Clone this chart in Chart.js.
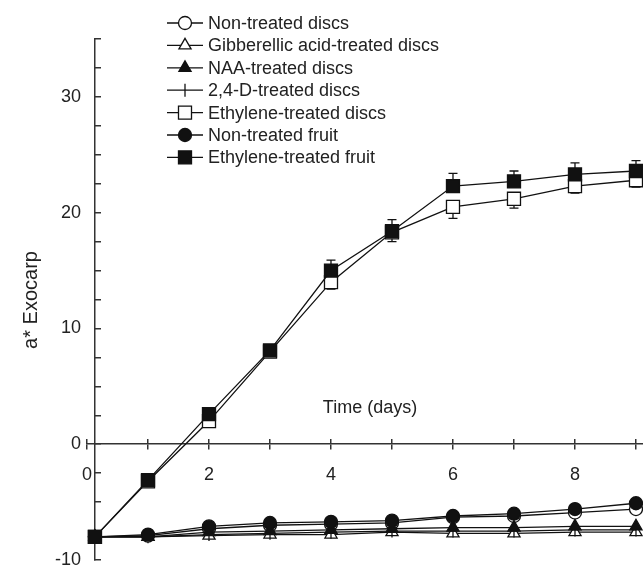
<!DOCTYPE html>
<html>
<head>
<meta charset="utf-8">
<script src="https://cdn.jsdelivr.net/npm/chart.js@4.4.1/dist/chart.umd.min.js"></script>
<style>
  html, body { margin: 0; padding: 0; background: #fff; }
</style>
</head>
<body>
<canvas id="chart" width="643" height="574"></canvas>
<script>
// time points (days) - first point sits on the y axis in the figure
const days = [0.13, 1, 2, 3, 4, 5, 6, 7, 8, 9];

// a* exocarp values
const nonTreatedDiscs = [-8.0, -7.9, -7.3, -7.0, -6.9, -6.8, -6.3, -6.2, -5.9, -5.6];
const gibberellicDiscs = [-8.0, -8.0, -7.9, -7.8, -7.8, -7.6, -7.7, -7.7, -7.6, -7.6];
const naaDiscs = [-8.0, -8.0, -7.6, -7.5, -7.4, -7.3, -7.2, -7.2, -7.1, -7.1];
const twoFourDDiscs = [-8.0, -8.0, -7.8, -7.7, -7.6, -7.5, -7.5, -7.5, -7.4, -7.4];
const ethyleneDiscs = [-8.0, -3.2, 2.0, 8.0, 14.0, 18.3, 20.5, 21.2, 22.3, 22.8];
const nonTreatedFruit = [-8.0, -7.8, -7.1, -6.8, -6.7, -6.6, -6.2, -6.0, -5.6, -5.1];
const ethyleneFruit = [-8.0, -3.1, 2.6, 8.1, 15.0, 18.4, 22.3, 22.7, 23.3, 23.6];

// error bars (only the visible half is drawn)
const ethyleneDiscsErr = [0, 0, 0, 0, 0.6, 0.8, 1.0, 0.8, 0.6, 0.6];
const ethyleneFruitErr = [0, 0, 0, 0, 0.9, 1.0, 1.1, 0.9, 1.0, 0.9];

// axis ticks and labels
const xTicks = [0, 1, 2, 3, 4, 5, 6, 7, 8, 9];
const xLabels = ["0", "", "2", "", "4", "", "6", "", "8", ""];
const yTicks = [-10, -7.5, -5, -2.5, 0, 2.5, 5, 7.5, 10, 12.5, 15, 17.5, 20, 22.5, 25, 27.5, 30, 32.5, 35];
const yLabels = ["-10", "", "", "", "0", "", "", "", "10", "", "", "", "20", "", "", "", "30", "", ""];

const FONT = "'Liberation Sans', Arial, sans-serif";
const INK = "#111";
const AXIS = "#333";

function pts(arr) {
  return arr.map((v, i) => ({ x: days[i], y: v }));
}

function serie(label, arr, style, filled, radius, order, rotation) {
  return {
    label: label,
    data: pts(arr),
    showLine: true,
    borderColor: INK,
    borderWidth: 1.3,
    pointStyle: style,
    pointRadius: radius,
    pointRotation: rotation || 0,
    pointBackgroundColor: filled ? INK : "#fff",
    pointBorderColor: INK,
    pointBorderWidth: 1.3,
    order: order,
  };
}

const datasets = [
  serie("Non-treated discs", nonTreatedDiscs, "circle", false, 6.5, 3),
  serie("Gibberellic acid-treated discs", gibberellicDiscs, "triangle", false, 7, 5),
  serie("NAA-treated discs", naaDiscs, "triangle", true, 7, 2),
  serie("2,4-D-treated discs", twoFourDDiscs, "line", false, 6.5, 4, 90),
  serie("Ethylene-treated discs", ethyleneDiscs, "rect", false, 9.2, 6),
  serie("Non-treated fruit", nonTreatedFruit, "circle", true, 6.5, 1),
  serie("Ethylene-treated fruit", ethyleneFruit, "rect", true, 9.2, 0),
];

const errorBars = [
  { dataset: 4, err: ethyleneDiscsErr, dir: -1 },
  { dataset: 6, err: ethyleneFruitErr, dir: 1 },
];

// error bars drawn under the markers, through the chart scales
const errorBarPlugin = {
  id: "errorBars",
  beforeDatasetsDraw(chart) {
    const ctx = chart.ctx;
    const xs = chart.scales.x;
    const ys = chart.scales.y;
    ctx.save();
    ctx.strokeStyle = INK;
    ctx.lineWidth = 1.3;
    errorBars.forEach((eb) => {
      const arr = chart.data.datasets[eb.dataset].data;
      arr.forEach((p, i) => {
        if (!eb.err[i]) return;
        const px = xs.getPixelForValue(p.x);
        const y0 = ys.getPixelForValue(p.y);
        const y1 = ys.getPixelForValue(p.y + eb.dir * eb.err[i]);
        ctx.beginPath();
        ctx.moveTo(px, y0);
        ctx.lineTo(px, y1);
        ctx.moveTo(px - 4.5, y1);
        ctx.lineTo(px + 4.5, y1);
        ctx.stroke();
      });
    });
    ctx.restore();
  },
};

// legend box in the upper left, with line + marker samples
const legendPlugin = {
  id: "figLegend",
  afterDraw(chart) {
    const ctx = chart.ctx;
    ctx.save();
    chart.data.datasets.forEach((ds, i) => {
      const y = 23 + i * 22.4;
      ctx.strokeStyle = INK;
      ctx.lineWidth = 1.3;
      ctx.beginPath();
      ctx.moveTo(167, y);
      ctx.lineTo(203, y);
      ctx.stroke();
      ctx.fillStyle = ds.pointBackgroundColor;
      ctx.strokeStyle = INK;
      Chart.helpers.drawPoint(ctx, {
        pointStyle: ds.pointStyle,
        radius: ds.pointRadius,
        rotation: ds.pointRotation,
        borderWidth: 1.3,
      }, 185, y);
      ctx.fillStyle = "#222";
      ctx.font = "18px " + FONT;
      ctx.textAlign = "left";
      ctx.textBaseline = "middle";
      ctx.fillText(ds.label, 208, y + 1);
    });
    ctx.restore();
  },
};

// axis titles
const titlePlugin = {
  id: "axisTitles",
  afterDraw(chart) {
    const ctx = chart.ctx;
    ctx.save();
    ctx.fillStyle = "#222";
    ctx.font = "18px " + FONT;
    ctx.textAlign = "center";
    ctx.textBaseline = "middle";
    ctx.fillText("Time (days)", 370, 408);
    ctx.translate(31, 300);
    ctx.rotate(-Math.PI / 2);
    ctx.font = "20px " + FONT;
    ctx.fillText("a* Exocarp", 0, 0);
    ctx.restore();
  },
};

const tickFont = { family: FONT, size: 18 };

new Chart(document.getElementById("chart"), {
  type: "scatter",
  data: { datasets: datasets },
  plugins: [errorBarPlugin, legendPlugin, titlePlugin],
  options: {
    responsive: false,
    animation: false,
    devicePixelRatio: 1,
    clip: false,
    layout: { autoPadding: false, padding: { left: 87, top: 39, right: 0, bottom: 14 } },
    plugins: { legend: { display: false }, tooltip: { enabled: false } },
    scales: {
      // x axis line crosses the y axis at 0, ticks on both sides
      x: {
        type: "linear",
        min: 0,
        max: 9.115,
        position: { y: 0 },
        afterBuildTicks: (s) => { s.ticks = xTicks.map((v) => ({ value: v })); },
        border: { display: true, color: AXIS, width: 1.5 },
        grid: { drawOnChartArea: false, drawTicks: true, tickLength: 5, color: AXIS, lineWidth: 1.5 },
        ticks: { display: false, padding: 0 },
      },
      xTop: {
        type: "linear",
        min: 0,
        max: 9.115,
        position: { y: 0 },
        afterBuildTicks: (s) => { s.ticks = xTicks.map((v) => ({ value: v })); },
        border: { display: false },
        grid: { drawOnChartArea: false, drawTicks: true, tickLength: -5, color: AXIS, lineWidth: 1.5 },
        ticks: { display: false, padding: 0 },
      },
      // tick labels of the x axis, a little below the axis line
      xLabels: {
        type: "linear",
        min: 0,
        max: 9.115,
        position: { y: -1.03 },
        afterBuildTicks: (s) => { s.ticks = xTicks.map((v) => ({ value: v })); },
        border: { display: false },
        grid: { display: false },
        ticks: {
          autoSkip: false,
          maxRotation: 0,
          padding: 0,
          color: "#222",
          font: tickFont,
          callback: (v, i) => xLabels[i],
        },
      },
      y: {
        type: "linear",
        min: -10,
        max: 35,
        position: { x: 0.13 },
        afterBuildTicks: (s) => { s.ticks = yTicks.map((v) => ({ value: v })); },
        border: { display: true, color: AXIS, width: 1.5 },
        grid: { drawOnChartArea: false, drawTicks: true, tickLength: -7, color: AXIS, lineWidth: 1.5 },
        ticks: { display: false, padding: 0 },
      },
      // tick labels of the y axis, set a little to the left of the axis line
      yLabels: {
        type: "linear",
        min: -10,
        max: 35,
        position: { x: -0.098 },
        afterBuildTicks: (s) => { s.ticks = yTicks.map((v) => ({ value: v })); },
        border: { display: false },
        grid: { display: false },
        ticks: {
          autoSkip: false,
          padding: 0,
          color: "#222",
          font: tickFont,
          callback: (v, i) => yLabels[i],
        },
      },
    },
  },
});
</script>
</body>
</html>
